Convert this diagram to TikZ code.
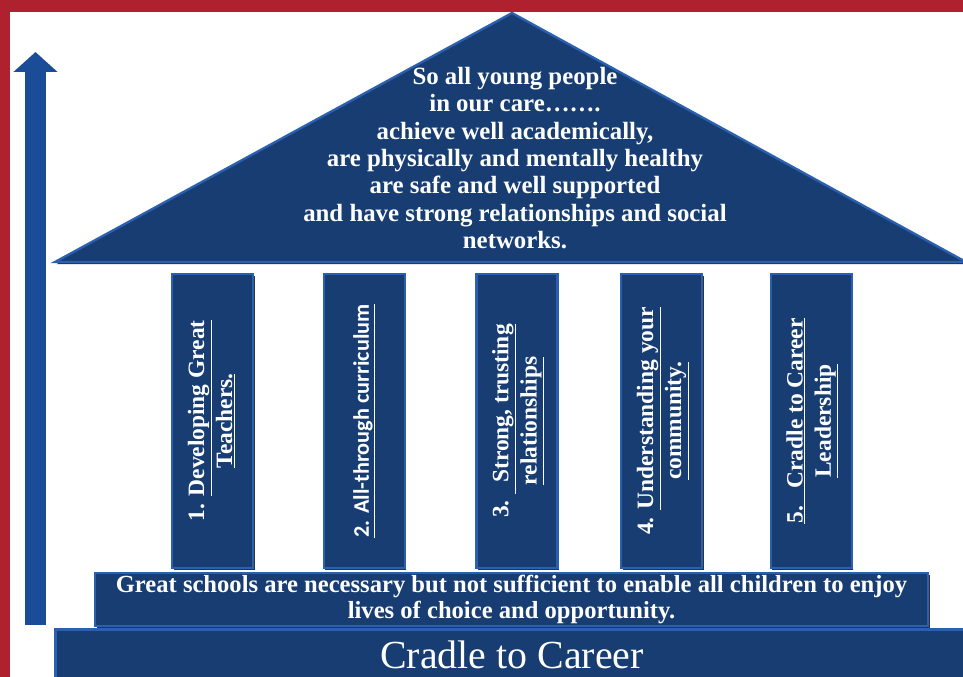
\documentclass[tikz,border=0pt]{standalone}
\usepackage{fontspec}
\usepackage{graphicx}
\setmainfont{Liberation Serif}
\newfontfamily\pillarsans{Carlito}
\usetikzlibrary{
	positioning,shadows,arrows.meta,calc
}
\definecolor{framered}{HTML}{B0212F}
\definecolor{housenavy}{HTML}{173D73}
\definecolor{bevelblue}{HTML}{2B60B0}
\definecolor{arrowblue}{HTML}{1A4C98}
\tikzset{
	housepart/.style={
		draw=bevelblue, line width=0.7mm, fill=housenavy, text=white,
		drop shadow={shadow xshift=0.5mm, shadow yshift=-0.6mm, opacity=0.8, fill=black}
	},
	%
	pillar/.style={
		housepart, rectangle, minimum width=24.3mm, minimum height=88.2mm, inner sep=0pt,
		font=\bfseries\fontsize{20}{24}\selectfont
	},
	%
	band/.style={
		housepart, rectangle, inner sep=0pt, align=center
	},
	%
	uparrow/.style={
		draw=arrowblue, line width=6.3mm,
		-{Triangle[length=6mm, width=12.9mm]}
	}
}

\begin{document}
\begin{tikzpicture}[x=0.3mm, y=-0.3mm]
    \useasboundingbox (0,0) rectangle (963,677);
    \fill[white] (0,0) rectangle (963,677);
    % frame
    \fill[framered] (0,0) rectangle (963,12);
    \fill[framered] (0,0) rectangle (10,677);
    % rising arrow
    \coordinate (arrowfoot) at (35.5,625);
    \coordinate (arrowtip) at (35.5,52);
    \draw[uparrow] (arrowfoot) -- (arrowtip);
    % roof
    \coordinate (roofleft) at (55,262);
    \coordinate (roofapex) at (512,13);
    \coordinate (roofright) at (966,262);
    \draw[housepart, line join=miter] (roofleft) -- (roofapex) -- (roofright) -- cycle;
    \node(rooftext)[text=white, align=center, font=\bfseries\fontsize{21.2}{23.4}\selectfont] at (515,158)
        {So all young people\\in our care\dots\dots.\\achieve well academically,\\are physically and mentally healthy\\are safe and well supported\\and have strong relationships and social\\networks.};
    % pillars
    \node(p1)[pillar] at (212.5,421) {\rotatebox{90}{\begin{tabular}{@{}c@{}}1. \underline{Developing Great}\\\underline{Teachers.}\end{tabular}}};
    \node(p2)[pillar, right=20.5mm of p1] {\rotatebox{90}{\pillarsans\bfseries\fontsize{19}{24}\selectfont\underline{2. All-through curriculum}}};
    \node(p3)[pillar, right=20.8mm of p2] {\rotatebox{90}{\begin{tabular}{@{}c@{}}3.\ \underline{\ \ Strong, trusting}\\\underline{relationships}\end{tabular}}};
    \node(p4)[pillar, right=18.4mm of p3] {\rotatebox{90}{\begin{tabular}{@{}c@{}}4. \underline{Understanding your}\\\underline{community.}\end{tabular}}};
    \node(p5)[pillar, right=19.9mm of p4] {\rotatebox{90}{\begin{tabular}{@{}c@{}}\underline{5.\ \ \ Cradle to Career}\\\underline{Leadership}\end{tabular}}};
    % foundations
    \node(schools)[band, minimum width=249.9mm, minimum height=15.9mm, font=\bfseries\fontsize{21}{21.5}\selectfont] at (511.5,599.5)
        {Great schools are necessary but not sufficient to enable all children to enjoy\\lives of choice and opportunity.};
    \node(career)[band, minimum width=273.9mm, minimum height=15.3mm, font=\fontsize{34}{36}\selectfont] at (512,655)
        {Cradle to Career};
\end{tikzpicture}
\end{document}
